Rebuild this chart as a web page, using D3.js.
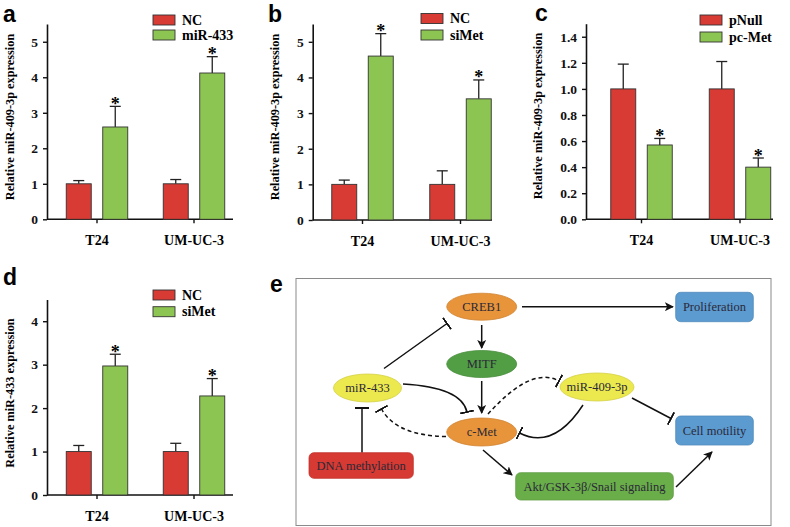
<!DOCTYPE html>
<html>
<head>
<meta charset="utf-8">
<script src="https://cdn.jsdelivr.net/npm/d3@7"></script>
<style>
  body { margin: 0; background: #fff; }
  svg { display: block; }
</style>
</head>
<body>
<script>
// values
const cellLines = ["T24", "UM-UC-3"];

const aSeries = ["NC", "miR-433"];
const aMeans = [[1.0, 2.6], [1.0, 4.12]];     // [cell line][series]
const aErrs = [[0.09, 0.58], [0.12, 0.46]];

const bSeries = ["NC", "siMet"];
const bMeans = [[1.0, 4.6], [1.0, 3.4]];
const bErrs = [[0.12, 0.63], [0.38, 0.53]];

const cSeries = ["pNull", "pc-Met"];
const cMeans = [[1.0, 0.57], [1.0, 0.40]];
const cErrs = [[0.19, 0.05], [0.21, 0.07]];

const dSeries = ["NC", "siMet"];
const dMeans = [[1.0, 2.97], [1.0, 2.28]];
const dErrs = [[0.14, 0.27], [0.19, 0.40]];

const aTicks = [0, 1, 2, 3, 4, 5];
const bTicks = [0, 1, 2, 3, 4, 5];
const cTicks = [0, 0.2, 0.4, 0.6, 0.8, 1.0, 1.2, 1.4];
const dTicks = [0, 1, 2, 3, 4];

// significant marks (green bar only)
const aStars = [[false, true], [false, true]];
const bStars = [[false, true], [false, true]];
const cStars = [[false, true], [false, true]];
const dStars = [[false, true], [false, true]];

const barColors = ["#d83a34", "#8cc552"];
const serif = "'Liberation Serif', 'Times New Roman', serif";
const sans = "'Liberation Sans', Arial, sans-serif";

const svg = d3.select("body").append("svg")
    .attr("width", 790)
    .attr("height", 527);

function barPanel(cfg) {
    const g = svg.append("g");
    const y = d3.scaleLinear().domain([0, cfg.yMax]).range([cfg.y0, cfg.yTop]);
    const x = d3.scaleBand().domain(cellLines)
        .range([cfg.firstCenter - cfg.step / 2, cfg.firstCenter + cfg.step * 1.5]);
    const inner = d3.scaleBand().domain([0, 1]).range([-30.75, 30.75]).paddingInner(0.315);

    // panel letter
    g.append("text")
        .attr("x", cfg.letterX).attr("y", cfg.letterY)
        .style("font-family", sans).style("font-weight", "bold").style("font-size", "23px")
        .text(cfg.letter);

    // y axis label
    g.append("text")
        .attr("transform", `translate(${cfg.labelX},${cfg.labelY}) rotate(-90)`)
        .attr("text-anchor", "middle")
        .style("font-family", serif).style("font-weight", "bold").style("font-size", "12.3px")
        .text(cfg.yLabel);

    // y axis
    const yAxis = g.append("g")
        .attr("transform", `translate(${cfg.axisX},0)`)
        .call(d3.axisLeft(y).tickValues(cfg.ticks).tickSize(4).tickPadding(5)
            .tickSizeOuter(0).tickFormat(cfg.fmt));
    yAxis.select(".domain").attr("stroke", "#111").attr("stroke-width", 1.6);
    yAxis.selectAll(".tick line").attr("stroke", "#111").attr("stroke-width", 1.4);
    yAxis.selectAll(".tick text")
        .style("font-family", serif).style("font-weight", "bold").style("font-size", "13.5px")
        .attr("fill", "#111");

    // x axis
    const xAxis = g.append("g")
        .attr("transform", `translate(0,${cfg.y0})`)
        .call(d3.axisBottom(x).tickSize(4).tickSizeOuter(0).tickFormat(""));
    xAxis.select(".domain").remove();
    xAxis.selectAll(".tick line").attr("stroke", "#111").attr("stroke-width", 1.4);
    g.append("line")
        .attr("x1", cfg.axisX).attr("x2", cfg.axisEnd)
        .attr("y1", cfg.y0).attr("y2", cfg.y0)
        .attr("stroke", "#111").attr("stroke-width", 1.6);

    g.selectAll(".xlab").data(cellLines).enter().append("text")
        .attr("x", d => x(d) + x.bandwidth() / 2)
        .attr("y", cfg.y0 + 26)
        .attr("text-anchor", "middle")
        .style("font-family", serif).style("font-weight", "bold").style("font-size", "14px")
        .text(d => d);

    // bars
    const rows = [];
    cellLines.forEach((c, i) => {
        [0, 1].forEach(s => rows.push({
            c: c, s: s, m: cfg.means[i][s], e: cfg.errs[i][s], star: cfg.stars[i][s]
        }));
    });
    const cx = d => x(d.c) + x.bandwidth() / 2 + inner(d.s);

    // error bars
    g.selectAll(".err").data(rows).enter().append("line")
        .attr("x1", d => cx(d) + inner.bandwidth() / 2)
        .attr("x2", d => cx(d) + inner.bandwidth() / 2)
        .attr("y1", d => y(d.m)).attr("y2", d => y(d.m + d.e))
        .attr("stroke", "#222").attr("stroke-width", 1.3);
    g.selectAll(".cap").data(rows).enter().append("line")
        .attr("x1", d => cx(d) + inner.bandwidth() / 2 - 5.5)
        .attr("x2", d => cx(d) + inner.bandwidth() / 2 + 5.5)
        .attr("y1", d => y(d.m + d.e)).attr("y2", d => y(d.m + d.e))
        .attr("stroke", "#222").attr("stroke-width", 1.3);

    g.selectAll(".bar").data(rows).enter().append("rect")
        .attr("x", d => cx(d))
        .attr("y", d => y(d.m))
        .attr("width", inner.bandwidth())
        .attr("height", d => cfg.y0 - y(d.m))
        .attr("fill", d => barColors[d.s])
        .attr("stroke", "#333").attr("stroke-width", 0.9);

    g.selectAll(".star").data(rows.filter(d => d.star)).enter().append("text")
        .attr("x", d => cx(d) + inner.bandwidth() / 2)
        .attr("y", d => y(d.m + d.e) + 3.5)
        .attr("text-anchor", "middle")
        .style("font-family", serif).style("font-weight", "bold").style("font-size", "18px")
        .text("*");

    // legend
    cfg.series.forEach((name, i) => {
        g.append("rect")
            .attr("x", cfg.legX).attr("y", cfg.legY + i * cfg.legGap)
            .attr("width", 22).attr("height", 10)
            .attr("fill", barColors[i]).attr("stroke", "#333").attr("stroke-width", 0.9);
        g.append("text")
            .attr("x", cfg.legX + 29).attr("y", cfg.legY + i * cfg.legGap + 9.5)
            .style("font-family", serif).style("font-weight", "bold").style("font-size", "14px")
            .text(name);
    });
}

barPanel({
    letter: "a", letterX: 3, letterY: 21.5,
    yLabel: "Relative miR-409-3p expression", labelX: 14, labelY: 117,
    axisX: 47, axisEnd: 233, y0: 219.3, yTop: 24, yMax: 5.5,
    firstCenter: 97, step: 97, ticks: aTicks, fmt: d3.format("d"),
    means: aMeans, errs: aErrs, stars: aStars, series: aSeries,
    legX: 153, legY: 15, legGap: 15
});
barPanel({
    letter: "b", letterX: 268, letterY: 21.5,
    yLabel: "Relative miR-409-3p expression", labelX: 279, labelY: 117,
    axisX: 312.7, axisEnd: 492, y0: 220, yTop: 24, yMax: 5.5,
    firstCenter: 362.5, step: 98, ticks: bTicks, fmt: d3.format("d"),
    means: bMeans, errs: bErrs, stars: bStars, series: bSeries,
    legX: 421, legY: 13.5, legGap: 16.5
});
barPanel({
    letter: "c", letterX: 535, letterY: 21,
    yLabel: "Relative miR-409-3p expression", labelX: 542, labelY: 116,
    axisX: 586, axisEnd: 773, y0: 219.3, yTop: 23.7, yMax: 1.5,
    firstCenter: 641.5, step: 98.5, ticks: cTicks, fmt: d3.format(".1f"),
    means: cMeans, errs: cErrs, stars: cStars, series: cSeries,
    legX: 700, legY: 15, legGap: 17
});
barPanel({
    letter: "d", letterX: 3, letterY: 285,
    yLabel: "Relative miR-433 expression", labelX: 14, labelY: 393,
    axisX: 47, axisEnd: 233, y0: 495, yTop: 299.5, yMax: 4.5,
    firstCenter: 97, step: 97, ticks: dTicks, fmt: d3.format("d"),
    means: dMeans, errs: dErrs, stars: dStars, series: dSeries,
    legX: 153, legY: 290, legGap: 16.7
});

// ---- panel e: schematic ----
const eg = svg.append("g");
eg.append("text").attr("x", 270).attr("y", 292)
    .style("font-family", sans).style("font-weight", "bold").style("font-size", "23px")
    .text("e");
eg.append("rect").attr("x", 296).attr("y", 278.5).attr("width", 475).attr("height", 247)
    .attr("fill", "#fff").attr("stroke", "#8a8a8a").attr("stroke-width", 1);

const defs = svg.append("defs");
defs.append("marker").attr("id", "arr")
    .attr("viewBox", "0 0 10 10").attr("refX", 9).attr("refY", 5)
    .attr("markerWidth", 9).attr("markerHeight", 9).attr("markerUnits", "userSpaceOnUse")
    .attr("orient", "auto")
    .append("path").attr("d", "M0,0 L10,5 L0,10 L2.5,5 Z").attr("fill", "#111");
defs.append("marker").attr("id", "bar")
    .attr("viewBox", "0 -7 2 14").attr("refX", 1).attr("refY", 0)
    .attr("markerWidth", 2).attr("markerHeight", 14).attr("markerUnits", "userSpaceOnUse")
    .attr("orient", "auto")
    .append("rect").attr("x", 0).attr("y", -7).attr("width", 2).attr("height", 14).attr("fill", "#111");

const ellipses = [
    { t: "CREB1", x: 481.7, y: 306.7, rx: 35, ry: 13.5, fill: "#e8943a" },
    { t: "MITF", x: 481.7, y: 364, rx: 35, ry: 13.5, fill: "#529e45" },
    { t: "miR-433", x: 367.5, y: 388, rx: 34, ry: 14, fill: "#ece94f" },
    { t: "c-Met", x: 481.7, y: 432, rx: 35, ry: 14, fill: "#e8943a" },
    { t: "miR-409-3p", x: 597, y: 387, rx: 37, ry: 14, fill: "#ece94f" }
];
const boxes = [
    { t: "Proliferation", x: 675.7, y: 292.3, w: 77.6, h: 29.4, fill: "#5b9bd0" },
    { t: "Cell motility", x: 675.7, y: 416, w: 77.6, h: 29, fill: "#5b9bd0" },
    { t: "DNA methylation", x: 309, y: 452.7, w: 104.3, h: 25.6, fill: "#d63a32" },
    { t: "Akt/GSK-3\u03b2/Snail signaling", x: 515.7, y: 472.7, w: 157.6, h: 27.3, fill: "#6aae4a" }
];

const edges = [
    { d: "M522,306.7 L673,306.7", end: "arr" },
    { d: "M481.7,325 L481.7,348", end: "arr" },
    { d: "M481.7,381 L481.7,413", end: "arr" },
    { d: "M384,368.5 L447,323.5", end: "bar" },
    { d: "M403,384 C440,386 463,394 467,412", end: "bar" },
    { d: "M446,436.5 C415,436 392,428 381.5,409", end: "bar", dash: true },
    { d: "M362,452.7 L362,408", end: "bar" },
    { d: "M488,414 C508,392 535,368 559,381", end: "bar", dash: true },
    { d: "M583,405 C566,431 545,446 519.5,433", end: "bar" },
    { d: "M632,398 L671,418.5", end: "bar" },
    { d: "M483,450 L512,475", end: "arr" },
    { d: "M676,487 L712,452", end: "arr" }
];

eg.selectAll(".edge").data(edges).enter().append("path")
    .attr("d", d => d.d)
    .attr("fill", "none").attr("stroke", "#111").attr("stroke-width", 1.5)
    .attr("stroke-dasharray", d => d.dash ? "4,3" : null)
    .attr("marker-end", d => `url(#${d.end})`);

eg.selectAll(".ell").data(ellipses).enter().append("ellipse")
    .attr("cx", d => d.x).attr("cy", d => d.y).attr("rx", d => d.rx).attr("ry", d => d.ry)
    .attr("fill", d => d.fill).attr("stroke", d => d3.color(d.fill).darker(0.3)).attr("stroke-width", 0.8);
eg.selectAll(".box").data(boxes).enter().append("rect")
    .attr("x", d => d.x).attr("y", d => d.y).attr("width", d => d.w).attr("height", d => d.h)
    .attr("rx", 5).attr("fill", d => d.fill)
    .attr("stroke", d => d3.color(d.fill).darker(0.3)).attr("stroke-width", 0.8);

const labels = ellipses.map(d => ({ t: d.t, x: d.x, y: d.y }))
    .concat(boxes.map(d => ({ t: d.t, x: d.x + d.w / 2, y: d.y + d.h / 2 })));
eg.selectAll(".lab").data(labels).enter().append("text")
    .attr("x", d => d.x).attr("y", d => d.y + 4.3)
    .attr("text-anchor", "middle")
    .style("font-family", serif).style("font-size", "12.5px")
    .attr("fill", "#2b2838")
    .text(d => d.t);
</script>
</body>
</html>
